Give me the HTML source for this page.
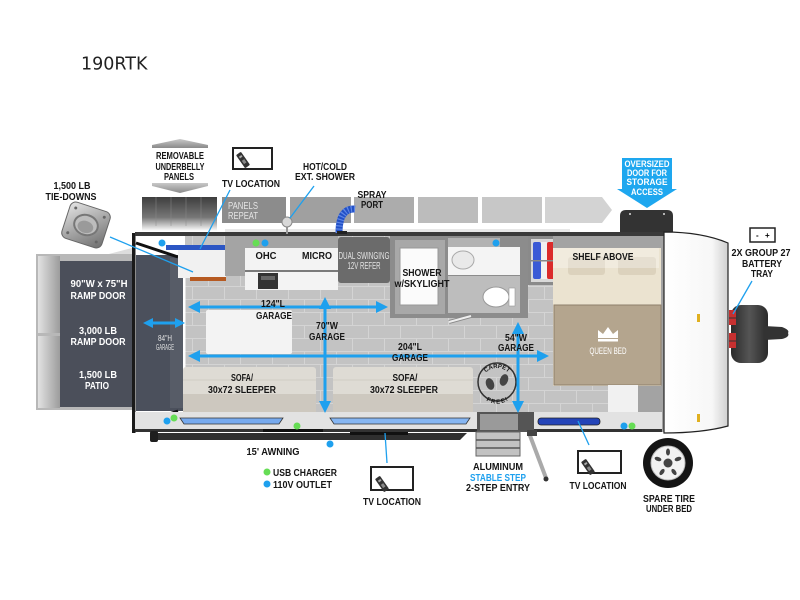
<!DOCTYPE html>
<html><head><meta charset="utf-8">
<style>
html,body{margin:0;padding:0;background:#fff;}
svg{display:block}
.t{font-family:"Liberation Sans",Arial,sans-serif;font-weight:bold;font-size:10px;fill:#151515;text-anchor:middle}
.s{font-size:9px}
.w{fill:#fff}
.l{font-weight:normal;fill:#e4e4e4}
</style></head><body>
<svg width="800" height="600" viewBox="0 0 800 600" xmlns="http://www.w3.org/2000/svg">
<defs>
 <pattern id="tile" width="32" height="26" patternUnits="userSpaceOnUse">
  <rect width="32" height="26" fill="#c3c3c3"/>
  <path d="M0 0.5H32 M0 13.5H32 M0.5 0V13 M16.5 13V26" stroke="#d4d4d4" stroke-width="1"/>
 </pattern>
 <linearGradient id="dark" x1="0" y1="0" x2="0" y2="1">
  <stop offset="0" stop-color="#3e3e3e"/><stop offset="0.6" stop-color="#777"/><stop offset="1" stop-color="#fff"/>
 </linearGradient>
 <linearGradient id="cap" x1="0" y1="0" x2="1" y2="0">
  <stop offset="0" stop-color="#fff"/><stop offset="0.75" stop-color="#f7f7f7"/><stop offset="1" stop-color="#d0d0d0"/>
 </linearGradient>
 <linearGradient id="arr" x1="0" y1="0" x2="0" y2="1">
  <stop offset="0" stop-color="#c8c8c8"/><stop offset="1" stop-color="#8a8a8a"/>
 </linearGradient>
 <linearGradient id="strip" x1="0" y1="0" x2="1" y2="0">
  <stop offset="0" stop-color="#e2e2e2"/><stop offset="1" stop-color="#9c9c9c"/>
 </linearGradient>
 <linearGradient id="hitch" x1="0" y1="0" x2="1" y2="0">
  <stop offset="0" stop-color="#2a2a2a"/><stop offset="0.5" stop-color="#555"/><stop offset="1" stop-color="#2a2a2a"/>
 </linearGradient>
 <linearGradient id="metal" x1="0" y1="0" x2="1" y2="1">
  <stop offset="0" stop-color="#e6e6e6"/><stop offset="0.5" stop-color="#a8a8a8"/><stop offset="1" stop-color="#6d6d6d"/>
 </linearGradient>
 <path id="arcTop" d="M481 384 A16 16 0 0 1 513 384"/>
 <path id="arcBot" d="M483 389 A15 15 0 0 0 511 389"/>
</defs>

<!-- Title -->
<text x="81" y="69.5" font-family="DejaVu Sans, Verdana, sans-serif" font-size="17.5" fill="#222">190RTK</text>

<!-- Removable underbelly arrows -->
<polygon points="180,139 208,145 208,148 152,148 152,145" fill="url(#arr)"/>
<polygon points="152,183 208,183 208,186 180,193 152,186" fill="url(#arr)"/>
<text class="t" x="180" y="159" textLength="48" lengthAdjust="spacingAndGlyphs">REMOVABLE</text>
<text class="t" x="180" y="170" textLength="49" lengthAdjust="spacingAndGlyphs">UNDERBELLY</text>
<text class="t" x="179" y="180" textLength="30" lengthAdjust="spacingAndGlyphs">PANELS</text>

<!-- Underbelly panels row -->
<rect x="142" y="197" width="75" height="34" fill="url(#dark)"/>
<path d="M156 197V226 M171 197V226 M186 197V226 M201 197V226" stroke="#8a8a8a" stroke-width="0.8" opacity="0.6"/>
<rect x="222" y="197" width="64" height="26" fill="#8c8c8c"/>
<rect x="290" y="197" width="61" height="26" fill="#a0a0a0"/>
<rect x="354" y="197" width="60" height="26" fill="#acacac"/>
<rect x="418" y="197" width="60" height="26" fill="#bcbcbc"/>
<rect x="482" y="197" width="60" height="26" fill="#c7c7c7"/>
<polygon points="545,197 602,197 612,210 602,223 545,223" fill="#d3d3d3"/>
<text class="t l" x="228" y="209" text-anchor="start" style="text-anchor:start" textLength="30" lengthAdjust="spacingAndGlyphs">PANELS</text>
<text class="t l" x="228" y="219" style="text-anchor:start" textLength="30" lengthAdjust="spacingAndGlyphs">REPEAT</text>

<!-- top labels -->
<text class="t" x="325" y="170" textLength="44" lengthAdjust="spacingAndGlyphs">HOT/COLD</text>
<text class="t" x="325" y="180" textLength="60" lengthAdjust="spacingAndGlyphs">EXT. SHOWER</text>
<text class="t" x="372" y="198" textLength="29" lengthAdjust="spacingAndGlyphs">SPRAY</text>
<text class="t" x="372" y="208" textLength="22" lengthAdjust="spacingAndGlyphs">PORT</text>

<!-- TV top -->
<rect x="233" y="148" width="39" height="21" fill="#fff" stroke="#222" stroke-width="2"/>
<g transform="translate(243,160) rotate(-35)"><rect x="-3" y="-8" width="6" height="16" rx="1" fill="#333"/><rect x="-1.5" y="-5" width="3" height="2" fill="#aaa"/><rect x="-1.5" y="0" width="3" height="4" fill="#888"/></g>
<text class="t" x="251" y="187" textLength="58" lengthAdjust="spacingAndGlyphs">TV LOCATION</text>

<!-- tie-downs -->
<text class="t" x="72" y="189" textLength="37" lengthAdjust="spacingAndGlyphs">1,500 LB</text>
<text class="t" x="71" y="200" textLength="51" lengthAdjust="spacingAndGlyphs">TIE-DOWNS</text>
<g transform="translate(86,225) rotate(18)">
 <rect x="-21" y="-19" width="42" height="38" rx="6" fill="url(#metal)" stroke="#666" stroke-width="1"/>
 <ellipse cx="0" cy="0" rx="12" ry="10" fill="#bdbdbd" stroke="#777" stroke-width="2"/>
 <ellipse cx="0" cy="2" rx="8" ry="6" fill="#9a9a9a"/>
 <circle cx="-15" cy="-13" r="1.5" fill="#666"/><circle cx="15" cy="-13" r="1.5" fill="#666"/>
 <circle cx="-15" cy="13" r="1.5" fill="#666"/><circle cx="15" cy="13" r="1.5" fill="#666"/>
</g>

<!-- Oversized door arrow -->
<polygon points="622,158 672,158 672,189 677,189 647,208 617,189 622,189" fill="#1ea7ef"/>
<text class="t w s" x="647" y="167" textLength="45" lengthAdjust="spacingAndGlyphs">OVERSIZED</text>
<text class="t w s" x="647" y="176" textLength="40" lengthAdjust="spacingAndGlyphs">DOOR FOR</text>
<text class="t w s" x="647" y="185" textLength="41" lengthAdjust="spacingAndGlyphs">STORAGE</text>
<text class="t w s" x="647" y="195" textLength="32" lengthAdjust="spacingAndGlyphs">ACCESS</text>
<path d="M620 233 V216 Q620 210 626 210 H667 Q673 210 673 216 V233 Z" fill="#333"/>
<circle cx="630" cy="214" r="1" fill="#ddd"/><circle cx="664" cy="214" r="1" fill="#ddd"/>

<!-- Ramp door -->
<polygon points="60,255 105,255 132,248 132,255" fill="#ddd"/>
<rect x="36" y="254" width="98" height="156" fill="#b8b8b8"/>
<rect x="38" y="256" width="22" height="77" fill="url(#strip)"/>
<rect x="38" y="336" width="22" height="72" fill="url(#strip)"/>
<rect x="60" y="261" width="74" height="146" fill="#4b4f5a"/>
<text class="t w" x="99" y="287" textLength="57" lengthAdjust="spacingAndGlyphs">90"W x 75"H</text>
<text class="t w" x="98" y="299" textLength="55" lengthAdjust="spacingAndGlyphs">RAMP DOOR</text>
<text class="t w" x="98" y="334" textLength="38" lengthAdjust="spacingAndGlyphs">3,000 LB</text>
<text class="t w" x="98" y="345" textLength="55" lengthAdjust="spacingAndGlyphs">RAMP DOOR</text>
<text class="t w" x="98" y="378" textLength="38" lengthAdjust="spacingAndGlyphs">1,500 LB</text>
<text class="t w" x="97" y="389" textLength="24" lengthAdjust="spacingAndGlyphs">PATIO</text>

<!-- Floor -->
<rect x="185" y="236" width="372" height="178" fill="url(#tile)"/>
<!-- rear garage area -->
<rect x="135" y="236" width="50" height="195" fill="#fff"/>
<rect x="136" y="255" width="48" height="156" fill="#4b505c"/>
<rect x="170" y="258" width="13" height="150" fill="#575c67"/>
<rect x="183" y="262" width="2.5" height="146" fill="#fff"/>
<polyline points="136,243 178,257" stroke="#111" stroke-width="3" fill="none"/>
<polyline points="136,425 178,411" stroke="#111" stroke-width="3" fill="none"/>
<text class="t l" x="165" y="341" style="font-size:8px" textLength="14" lengthAdjust="spacingAndGlyphs">84"H</text>
<text class="t l" x="165" y="350" style="font-size:8px" textLength="18" lengthAdjust="spacingAndGlyphs">GARAGE</text>
<!-- rear wall -->
<rect x="132" y="233" width="3.5" height="200" fill="#1a1a1a"/>

<!-- top wall -->
<rect x="135" y="232" width="532" height="4" fill="#3a3a3a"/>
<rect x="225" y="229" width="345" height="3" fill="#e8e8e8"/>

<!-- left counter + tv strip -->
<rect x="166" y="245" width="60" height="5" fill="#2c56c4"/>
<rect x="178" y="250" width="48" height="28" fill="#f1f1f1"/>
<rect x="190" y="277" width="36" height="4" fill="#b65a22"/>

<!-- Kitchen -->
<rect x="225" y="236" width="113" height="40" fill="#a4a4a4"/>
<rect x="245" y="248" width="93" height="42" fill="#f3f3f3"/>
<rect x="245" y="270" width="93" height="2" fill="#7a7a7a"/>
<rect x="258" y="273" width="20" height="16" fill="#333"/>
<rect x="261" y="276" width="14" height="4" fill="#666"/>
<text class="t" x="266" y="259" textLength="21" lengthAdjust="spacingAndGlyphs">OHC</text>
<text class="t" x="317" y="259" textLength="30" lengthAdjust="spacingAndGlyphs">MICRO</text>
<!-- refer -->
<rect x="338" y="237" width="52" height="46" rx="3" fill="#6b6b6b"/>
<text class="t l" x="364" y="259" textLength="51" lengthAdjust="spacingAndGlyphs">DUAL SWINGING</text>
<text class="t l" x="364" y="269" textLength="33" lengthAdjust="spacingAndGlyphs">12V REFER</text>

<!-- hot/cold fixture & spray hose -->
<rect x="286" y="222" width="2" height="12" fill="#999"/>
<circle cx="287" cy="222" r="5" fill="#d8d8d8" stroke="#888"/>
<path d="M339 233 Q339 208 355 209" stroke="#2150c6" stroke-width="7" fill="none"/>
<path d="M339 233 Q339 208 355 209" stroke="#5f86e6" stroke-width="7" stroke-dasharray="1.2 2" fill="none"/>
<rect x="337" y="231" width="10" height="3" fill="#222"/>

<!-- Bathroom -->
<rect x="390" y="236" width="138" height="82" fill="#8c8c8c"/>
<rect x="395" y="240" width="50" height="74" fill="#a8a8a8"/>
<rect x="400" y="248" width="38" height="57" fill="#fbfbfb" stroke="#999"/>
<rect x="448" y="238" width="52" height="9" fill="#b2b2b2"/>
<rect x="448" y="247" width="72" height="28" fill="#f4f4f4"/>
<ellipse cx="463" cy="260" rx="11" ry="9" fill="#e9e9e9" stroke="#aaa"/>
<rect x="448" y="276" width="72" height="37" fill="#bdbdbd"/>
<ellipse cx="496" cy="297" rx="13" ry="10" fill="#fff" stroke="#999"/>
<rect x="509" y="288" width="6" height="18" fill="#fff" stroke="#999" stroke-width="0.6"/>
<line x1="449" y1="322" x2="471" y2="316" stroke="#888" stroke-width="4"/>
<line x1="449" y1="322" x2="471" y2="316" stroke="#eee" stroke-width="2"/>
<text class="t" x="422" y="276" textLength="39" lengthAdjust="spacingAndGlyphs">SHOWER</text>
<text class="t" x="422" y="287" textLength="55" lengthAdjust="spacingAndGlyphs">w/SKYLIGHT</text>

<!-- wardrobe -->
<rect x="528" y="236" width="37" height="49" fill="#8a8a8a"/>
<rect x="531" y="239" width="31" height="43" fill="#d9d9d9"/>
<rect x="533" y="242" width="8" height="37" rx="2" fill="#3a5ad6"/>
<rect x="541" y="242" width="6" height="37" fill="#f1f1f1"/>
<rect x="547" y="242" width="9" height="37" rx="2" fill="#db2b2b"/>
<rect x="531" y="260" width="31" height="1.5" fill="#888"/>

<!-- Bed area -->
<rect x="553" y="236" width="114" height="196" fill="#a3a3a3"/>
<rect x="553" y="248" width="108" height="138" fill="#ebe3d0"/>
<rect x="568" y="257" width="37" height="18" rx="3" fill="#dcd2bd"/>
<rect x="618" y="257" width="38" height="18" rx="3" fill="#dcd2bd"/>
<rect x="553" y="248" width="106" height="20" fill="#fff" opacity="0.3"/>
<rect x="554" y="305" width="107" height="80" fill="#b4a58e" stroke="#8e7f6b"/>
<text class="t" x="603" y="260" textLength="61" lengthAdjust="spacingAndGlyphs">SHELF ABOVE</text>
<polygon points="598,338 598,330 603,334 608,327 613,334 618,330 618,338" fill="#fff"/>
<rect x="598" y="339" width="20" height="2.5" fill="#fff"/>
<text class="t w" x="608" y="354" style="font-weight:normal;font-size:9.5px" textLength="37" lengthAdjust="spacingAndGlyphs">QUEEN BED</text>
<rect x="553" y="386" width="56" height="28" fill="url(#tile)"/>
<rect x="608" y="385" width="30" height="30" fill="#f1f1f1"/>

<!-- Sofas -->
<rect x="183" y="367" width="133" height="45" rx="3" fill="#dedbd4"/>
<rect x="183" y="394" width="133" height="18" fill="#cdc8bf"/>
<line x1="183" y1="380" x2="316" y2="380" stroke="#d0ccc4"/>
<rect x="333" y="367" width="140" height="45" rx="3" fill="#dedbd4"/>
<rect x="333" y="394" width="140" height="18" fill="#cdc8bf"/>
<line x1="333" y1="380" x2="473" y2="380" stroke="#d0ccc4"/>
<text class="t" x="242" y="381" textLength="22" lengthAdjust="spacingAndGlyphs">SOFA/</text>
<text class="t" x="242" y="393" textLength="68" lengthAdjust="spacingAndGlyphs">30x72 SLEEPER</text>
<text class="t" x="405" y="381" textLength="25" lengthAdjust="spacingAndGlyphs">SOFA/</text>
<text class="t" x="404" y="393" textLength="68" lengthAdjust="spacingAndGlyphs">30x72 SLEEPER</text>

<!-- table -->
<rect x="206" y="310" width="86" height="44" rx="2" fill="#f3f3f3"/>

<!-- carpet free logo -->
<circle cx="497" cy="382" r="19" fill="none" stroke="#333" stroke-width="1.5"/>
<text class="t" style="font-size:6px"><textPath href="#arcTop" startOffset="50%">CARPET</textPath></text>
<text class="t" style="font-size:6px" dy="5"><textPath href="#arcBot" startOffset="50%" side="right">FREE!</textPath></text>
<ellipse cx="490" cy="384" rx="4" ry="6" fill="#444" transform="rotate(-20 490 384)"/>
<ellipse cx="504" cy="380" rx="4" ry="6" fill="#444" transform="rotate(20 504 380)"/>

<!-- Bottom wall -->
<rect x="135" y="412" width="527" height="18" fill="#e2e2e2"/>
<rect x="135" y="429" width="527" height="3" fill="#333"/>
<polygon points="180,418 283,418 279,424 184,424" fill="#77aaee" stroke="#333" stroke-width="0.8"/>
<polygon points="330,418 470,418 466,424 334,424" fill="#86b6f2" stroke="#333" stroke-width="0.8"/>
<rect x="538" y="418" width="62" height="7" rx="3" fill="#2444b8" stroke="#222" stroke-width="0.8"/>
<!-- step -->
<rect x="477" y="412" width="57" height="20" fill="#555"/>
<rect x="480" y="414" width="38" height="16" fill="#9a9a9a"/>
<rect x="476" y="432" width="44" height="24" fill="#c2c2c2" stroke="#666" stroke-width="1"/>
<line x1="476" y1="440" x2="520" y2="440" stroke="#555" stroke-width="1.5"/>
<line x1="476" y1="448" x2="520" y2="448" stroke="#555" stroke-width="1.5"/>
<line x1="529" y1="433" x2="546" y2="478" stroke="#aaa" stroke-width="4"/>
<rect x="527" y="430" width="10" height="6" fill="#444"/>
<circle cx="546" cy="479" r="2.5" fill="#333"/>

<!-- awning -->
<polygon points="153,433 467,433 460,440 153,440" fill="#2f2f2f"/>
<rect x="150" y="431" width="8" height="11" rx="2" fill="#1e1e1e"/>
<rect x="263" y="429" width="60" height="3" fill="#111"/>
<rect x="350" y="432" width="58" height="3" fill="#111"/>

<!-- Front cap -->
<path d="M664 232 Q702 232 728 243 L728 426 Q702 433 664 433 Z" fill="url(#cap)" stroke="#222" stroke-width="1.2"/>
<rect x="697" y="314" width="3" height="8" fill="#e0b020"/>
<rect x="697" y="414" width="3" height="8" fill="#e0b020"/>

<!-- hitch -->
<rect x="731" y="305" width="37" height="58" rx="10" fill="url(#hitch)"/>
<path d="M764 326 L782 327 Q790 330 788 333 Q790 337 782 339 L764 340 Z" fill="#333"/>
<rect x="729" y="310" width="7" height="15" fill="#c63030"/>
<rect x="729" y="333" width="7" height="15" fill="#c63030"/>
<line x1="729" y1="318" x2="736" y2="318" stroke="#333"/>
<line x1="729" y1="341" x2="736" y2="341" stroke="#333"/>

<!-- battery -->
<rect x="750" y="228" width="25" height="14" fill="#fff" stroke="#222" stroke-width="1.5"/>
<text x="756" y="238" font-family="Liberation Sans, sans-serif" font-size="8" font-weight="bold">-</text>
<text x="765" y="238" font-family="Liberation Sans, sans-serif" font-size="8" font-weight="bold">+</text>
<text class="t" x="761" y="256" textLength="59" lengthAdjust="spacingAndGlyphs">2X GROUP 27</text>
<text class="t" x="762" y="267" textLength="40" lengthAdjust="spacingAndGlyphs">BATTERY</text>
<text class="t" x="762" y="277" textLength="22" lengthAdjust="spacingAndGlyphs">TRAY</text>

<!-- Garage arrows -->
<g stroke="#1ea0ee" stroke-width="3" fill="none">
 <line x1="196" y1="307" x2="380" y2="307"/>
 <line x1="196" y1="356" x2="541" y2="356"/>
 <line x1="325" y1="305" x2="325" y2="405"/>
 <line x1="518" y1="330" x2="518" y2="405"/>
 <line x1="150" y1="323" x2="178" y2="323"/>
</g>
<g fill="#1ea0ee">
 <polygon points="188,307 200,301 200,313"/>
 <polygon points="388,307 376,301 376,313"/>
 <polygon points="188,356 200,350 200,362"/>
 <polygon points="549,356 537,350 537,362"/>
 <polygon points="325,297 319,309 331,309"/>
 <polygon points="325,413 319,401 331,401"/>
 <polygon points="518,322 512,334 524,334"/>
 <polygon points="518,413 512,401 524,401"/>
 <polygon points="143,323 153,318 153,328"/>
 <polygon points="185,323 175,318 175,328"/>
</g>
<text class="t" x="273" y="307" textLength="24" lengthAdjust="spacingAndGlyphs">124"L</text>
<text class="t" x="274" y="319" textLength="36" lengthAdjust="spacingAndGlyphs">GARAGE</text>
<text class="t" x="327" y="329" textLength="22" lengthAdjust="spacingAndGlyphs">70"W</text>
<text class="t" x="327" y="340" textLength="36" lengthAdjust="spacingAndGlyphs">GARAGE</text>
<text class="t" x="410" y="350" textLength="24" lengthAdjust="spacingAndGlyphs">204"L</text>
<text class="t" x="410" y="361" textLength="36" lengthAdjust="spacingAndGlyphs">GARAGE</text>
<text class="t" x="516" y="341" textLength="22" lengthAdjust="spacingAndGlyphs">54"W</text>
<text class="t" x="516" y="351" textLength="36" lengthAdjust="spacingAndGlyphs">GARAGE</text>

<!-- dots -->
<g fill="#1ea0ee">
 <circle cx="162" cy="243" r="3.5"/><circle cx="265" cy="243" r="3.5"/><circle cx="496" cy="243" r="3.5"/>
 <circle cx="167" cy="421" r="3.5"/><circle cx="330" cy="444" r="3.5"/><circle cx="624" cy="426" r="3.5"/>
 <circle cx="267" cy="484" r="3.5"/>
</g>
<g fill="#66dd55">
 <circle cx="256" cy="243" r="3.5"/><circle cx="174" cy="418" r="3.5"/><circle cx="297" cy="426" r="3.5"/>
 <circle cx="632" cy="426" r="3.5"/><circle cx="267" cy="472" r="3.5"/>
</g>

<!-- leader lines -->
<g stroke="#1ea0ee" stroke-width="1.3">
 <line x1="110" y1="237" x2="193" y2="272"/>
 <line x1="230" y1="190" x2="200" y2="249"/>
 <line x1="314" y1="186" x2="290" y2="218"/>
 <line x1="752" y1="281" x2="733" y2="314"/>
 <line x1="385" y1="433" x2="387" y2="463"/>
 <line x1="578" y1="421" x2="589" y2="445"/>
</g>

<!-- bottom labels -->
<text class="t" x="273" y="455" textLength="53" lengthAdjust="spacingAndGlyphs">15' AWNING</text>
<text class="t" x="273" y="476" style="text-anchor:start" textLength="64" lengthAdjust="spacingAndGlyphs">USB CHARGER</text>
<text class="t" x="273" y="488" style="text-anchor:start" textLength="59" lengthAdjust="spacingAndGlyphs">110V OUTLET</text>

<rect x="371" y="467" width="42" height="23" fill="#fff" stroke="#222" stroke-width="2"/>
<g transform="translate(382,484) rotate(-35)"><rect x="-3" y="-8" width="6" height="16" rx="1" fill="#333"/><rect x="-1.5" y="-5" width="3" height="2" fill="#aaa"/><rect x="-1.5" y="0" width="3" height="4" fill="#888"/></g>
<text class="t" x="392" y="505" textLength="58" lengthAdjust="spacingAndGlyphs">TV LOCATION</text>

<text class="t" x="498" y="470" textLength="50" lengthAdjust="spacingAndGlyphs">ALUMINUM</text>
<text class="t" x="498" y="481" style="fill:#1ea0ee" textLength="56" lengthAdjust="spacingAndGlyphs">STABLE STEP</text>
<text class="t" x="498" y="491" textLength="64" lengthAdjust="spacingAndGlyphs">2-STEP ENTRY</text>

<rect x="578" y="451" width="43" height="22" fill="#fff" stroke="#222" stroke-width="2"/>
<g transform="translate(588,467) rotate(-35)"><rect x="-3" y="-8" width="6" height="16" rx="1" fill="#333"/><rect x="-1.5" y="-5" width="3" height="2" fill="#aaa"/><rect x="-1.5" y="0" width="3" height="4" fill="#888"/></g>
<text class="t" x="598" y="489" textLength="57" lengthAdjust="spacingAndGlyphs">TV LOCATION</text>

<!-- spare tire -->
<circle cx="668" cy="463" r="25" fill="#141414"/>
<circle cx="668" cy="463" r="17" fill="#f2f2f2" stroke="#bbb"/>
<g fill="#444">
 <circle cx="668" cy="463" r="4.5"/>
 <ellipse cx="668" cy="452" rx="2" ry="3.5"/>
 <ellipse cx="678" cy="459" rx="2" ry="3.5" transform="rotate(72 678 459)"/>
 <ellipse cx="674" cy="472" rx="2" ry="3.5" transform="rotate(144 674 472)"/>
 <ellipse cx="662" cy="472" rx="2" ry="3.5" transform="rotate(216 662 472)"/>
 <ellipse cx="658" cy="459" rx="2" ry="3.5" transform="rotate(288 658 459)"/>
</g>
<text class="t" x="669" y="502" textLength="52" lengthAdjust="spacingAndGlyphs">SPARE TIRE</text>
<text class="t" x="669" y="512" textLength="46" lengthAdjust="spacingAndGlyphs">UNDER BED</text>
</svg>
</body></html>
